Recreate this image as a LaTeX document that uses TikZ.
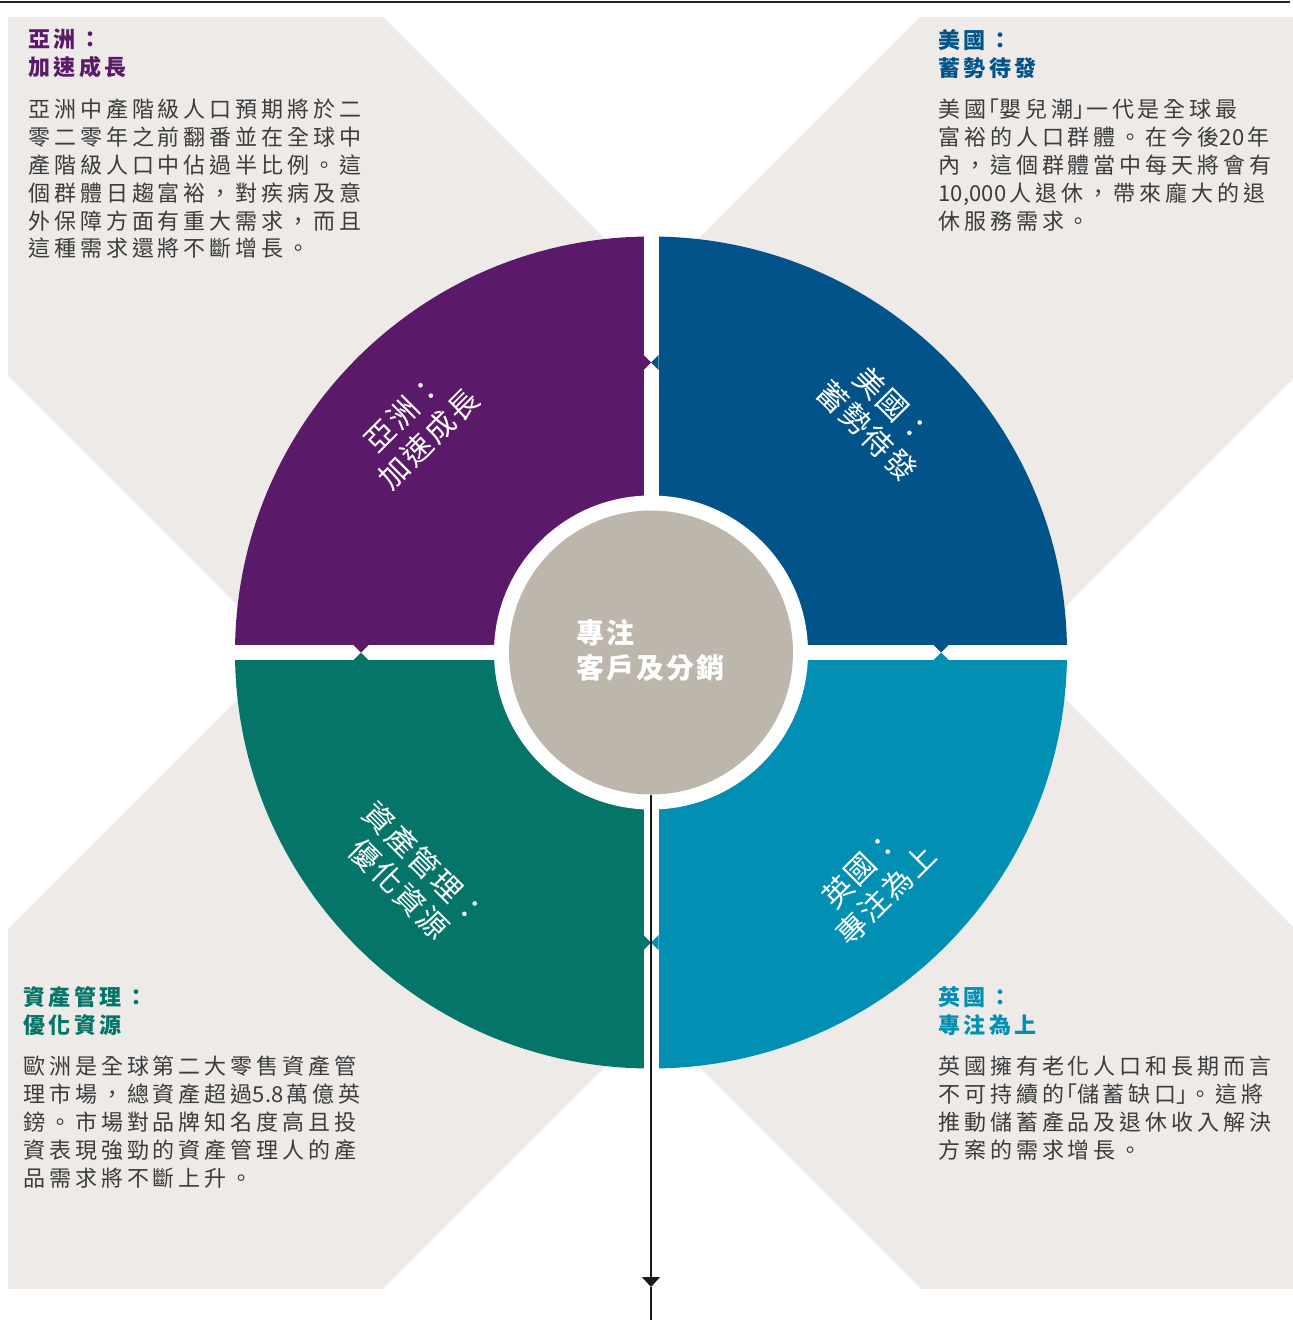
\documentclass[tikz,border=0pt]{standalone}
\usepackage{fontspec}
\newfontfamily\cjk{Noto Sans CJK TC}
\usetikzlibrary{arrows.meta}
\definecolor{asia}{HTML}{5A1A69}
\definecolor{usblue}{HTML}{01538A}
\definecolor{amteal}{HTML}{057469}
\definecolor{ukblue}{HTML}{018FB4}
\definecolor{beige}{HTML}{BDB6AC}
\definecolor{bggrey}{HTML}{EDEAE7}
\definecolor{bodygrey}{HTML}{3C3C3C}
\newcommand\LQ{\makebox[13pt][r]{「}}
\newcommand\RQ{\makebox[13pt][l]{」}}
\newcommand\numtxt[1]{{\addfontfeature{LetterSpace=1}#1}\hspace{3pt}}
\begin{document}
\begin{tikzpicture}[x=1pt,y=-1pt,
  bodytext/.style={font=\cjk\fontsize{22}{27.8}\selectfont\addfontfeature{LetterSpace=18}, text=bodygrey, align=left, inner sep=0pt, anchor=north west},
  headtext/.style={font=\cjk\bfseries\fontsize{22}{28}\selectfont\addfontfeature{LetterSpace=16}, align=left, inner sep=0pt, anchor=north west},
  qlabel/.style={font=\cjk\fontsize{30}{36}\selectfont\addfontfeature{LetterSpace=7}, text=white, align=center, inner sep=0pt},
  conn/.style={line width=1.2pt, draw=black!90}]
\useasboundingbox (0,0) rectangle (1293,1320);

% top rule
\coordinate (rl) at (0,2);
\coordinate (rr) at (1290,2);
\draw[line width=1.3pt, black!85] (rl) -- (rr);

% grey X-shaped background
\begin{scope}
  \clip (8,17) rectangle (1293,1288);
  \fill[bggrey] (-500,-866) -- (1800,1434) -- (1800,2168) -- (-500,-132) -- cycle;
  \fill[bggrey] (-500,1437) -- (1800,-863) -- (1800,-128) -- (-500,2172) -- cycle;
\end{scope}

% quadrants
\coordinate (C) at (651,652.5);
\begin{scope}\clip (200,200) rectangle (651,652.5); \fill[asia] (C) circle[radius=416pt]; \end{scope}
\begin{scope}\clip (651,200) rectangle (1100,652.5); \fill[usblue] (C) circle[radius=416pt]; \end{scope}
\begin{scope}\clip (200,652.5) rectangle (651,1100); \fill[amteal] (C) circle[radius=416pt]; \end{scope}
\begin{scope}\clip (651,652.5) rectangle (1100,1100); \fill[ukblue] (C) circle[radius=416pt]; \end{scope}

% white gaps
\fill[white] (643.5,220) rectangle (658.5,1080);
\fill[white] (220,645) rectangle (1080,660);

% notches
\fill[asia] (643.5,355) -- (651,362.5) -- (643.5,370) -- cycle;
\fill[usblue] (658.5,355) -- (651,362.5) -- (658.5,370) -- cycle;
\fill[asia] (353.5,645) -- (361,652.5) -- (368.5,645) -- cycle;
\fill[amteal] (353.5,660) -- (361,652.5) -- (368.5,660) -- cycle;
\fill[usblue] (933.5,645) -- (941,652.5) -- (948.5,645) -- cycle;
\fill[ukblue] (933.5,660) -- (941,652.5) -- (948.5,660) -- cycle;
\fill[amteal] (643.5,935) -- (651,942.5) -- (643.5,950) -- cycle;
\fill[ukblue] (658.5,935) -- (651,942.5) -- (658.5,950) -- cycle;

% centre
\fill[white] (C) circle[radius=157pt];
\node[circle, fill=beige, minimum size=284pt, inner sep=0pt] (ctr) at (C) {};
\node[anchor=west, align=left, inner sep=0pt, text=white,
      font=\cjk\bfseries\fontsize{28}{35}\selectfont\addfontfeature{LetterSpace=7}] (ctrtext) at (576,651) {專注\\客戶及分銷};

% quadrant labels
\node[qlabel, rotate=45] (asialbl) at (416,426) {亞洲：\\加速成長};
\node[qlabel, rotate=-45] (uslbl) at (880,418) {美國：\\蓄勢待發};
\node[qlabel, rotate=-45] (amlbl) at (412,876) {資產管理：\\優化資源};
\node[qlabel, rotate=45] (uklbl) at (873,882) {英國：\\專注為上};

% arrow
\coordinate (tip) at (651,1287);
\coordinate (bot) at (651,1320);
\draw[conn, -{Triangle[width=18pt,length=10pt]}] (ctr.south) -- (tip);
\draw[conn] (tip) -- (bot);

% corner texts
\node[headtext, text=asia] (asiahead) at (28,29) {亞洲：\\加速成長};
\node[bodytext] (asiabody) at (28,99) {亞洲中產階級人口預期將於二\\零二零年之前翻番並在全球中\\產階級人口中佔過半比例。這\\個群體日趨富裕，對疾病及意\\外保障方面有重大需求，而且\\這種需求還將不斷增長。};

\node[headtext, text=usblue] (ushead) at (938,29) {美國：\\蓄勢待發};
\node[bodytext] (usbody) at (938,99) {美國\LQ 嬰兒潮\RQ 一代是全球最\\富裕的人口群體。在今後\numtxt{20}年\\內，這個群體當中每天將會有\\\numtxt{10,000}人退休，帶來龐大的退\\休服務需求。};

\node[headtext, text=amteal] (amhead) at (23,986) {資產管理：\\優化資源};
\node[bodytext] (ambody) at (23,1056) {歐洲是全球第二大零售資產管\\理市場，總資產超過\numtxt{5.8}萬億英\\鎊。市場對品牌知名度高且投\\資表現強勁的資產管理人的產\\品需求將不斷上升。};

\node[headtext, text=ukblue] (ukhead) at (938,986) {英國：\\專注為上};
\node[bodytext] (ukbody) at (938,1056) {英國擁有老化人口和長期而言\\不可持續的\LQ 儲蓄缺口\RQ 。這將\\推動儲蓄產品及退休收入解決\\方案的需求增長。};
\end{tikzpicture}
\end{document}
